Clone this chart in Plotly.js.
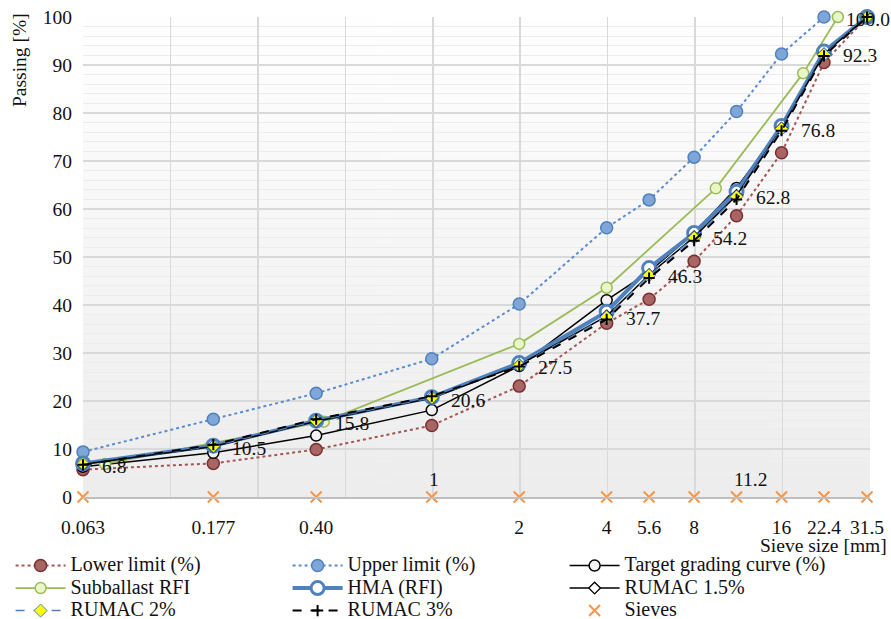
<!DOCTYPE html>
<html><head><meta charset="utf-8">
<script src="https://cdn.plot.ly/plotly-3.0.1.min.js"></script>
<style>html,body{margin:0;padding:0;background:#fff}#chart{width:891px;height:619px}</style>
</head><body><div id="chart"></div>
<script>
// ---- data ----
const sieves = [0.063, 0.177, 0.40, 1, 2, 4, 5.6, 8, 11.2, 16, 22.4, 31.5];
const sieveLabels = ['0.063', '0.177', '0.40', '1', '2', '4', '5.6', '8', '11.2', '16', '22.4', '31.5'];
const raisedLabels = ['1', '11.2'];
const gridSizes = [0.063, 0.126, 0.252, 0.504, 1.008, 2.016, 4.032, 8.064, 16.128, 32.256];
const lowerLimit = [5.7, 7.0, 9.9, 14.9, 23.1, 36.2, 41.2, 49.1, 58.6, 71.7, 90.5, 100];
const upperSieves = [0.063, 0.177, 0.40, 1, 2, 4, 5.6, 8, 11.2, 16, 22.4];
const upperLimit = [9.4, 16.2, 21.6, 28.8, 40.2, 56.1, 61.9, 70.8, 80.3, 92.3, 100];
const targetCurve = [6.3, 9.2, 12.8, 18.1, 27.3, 41.0, 46.9, 55.0, 64.4, 77.0, 92.5, 100];
const subballastSieves = [0.075, 0.425, 2, 4, 9.5, 19, 25];
const subballast = [6.9, 15.7, 31.9, 43.6, 64.3, 88.3, 100];
const hmaRFI = [7.0, 10.7, 15.9, 20.8, 27.9, 38.6, 47.7, 55.0, 63.6, 77.3, 92.8, 100];
const rumac15 = [6.8, 10.5, 15.8, 20.6, 27.5, 37.7, 46.3, 54.2, 62.8, 76.8, 92.3, 100.0];
const rumac2 = [6.9, 10.6, 15.9, 20.7, 27.4, 37.5, 46.2, 54.0, 62.6, 76.7, 92.2, 100];
const rumac3 = [6.7, 10.9, 16.2, 21.0, 27.2, 37.0, 45.6, 53.4, 62.0, 76.3, 91.9, 100];
const seriesNames = ['Lower limit (%)', 'Upper limit (%)', 'Target grading curve (%)', 'Subballast RFI',
  'HMA (RFI)', 'RUMAC 1.5%', 'RUMAC 2%', 'RUMAC 3%', 'Sieves'];
const sieveZero = sieves.map(() => 0);

const FONT = 'Liberation Serif';
const TXT = '#111111';
const legName = n => '<span style="font-size:20px">' + n + '</span>';

const traces = [
  {x: sieves, y: lowerLimit, mode: 'lines+markers',
   line: {color: '#A35555', width: 2, dash: 'dot'},
   marker: {symbol: 'circle', size: 12, color: '#A86565', line: {color: '#7A2F2F', width: 1.5}}},
  {x: upperSieves, y: upperLimit, mode: 'lines+markers',
   line: {color: '#5B8BD0', width: 2, dash: 'dot'},
   marker: {symbol: 'circle', size: 12, color: '#80A6D8', line: {color: '#4F81BD', width: 1.5}}},
  {x: sieves, y: targetCurve, mode: 'lines+markers',
   line: {color: '#000000', width: 1.5},
   marker: {symbol: 'circle', size: 11, color: '#f2f2f2', line: {color: '#000000', width: 1.5}}},
  {x: subballastSieves, y: subballast, mode: 'lines+markers',
   line: {color: '#9BBB59', width: 1.8},
   marker: {symbol: 'circle', size: 11, color: '#E9F7C6', line: {color: '#9BBB59', width: 1.5}}},
  {x: sieves, y: hmaRFI, mode: 'lines+markers',
   line: {color: '#4F81BD', width: 4},
   marker: {symbol: 'circle', size: 13, color: '#ffffff', line: {color: '#4F81BD', width: 3}}},
  {x: sieves, y: rumac15, mode: 'lines+markers',
   line: {color: '#000000', width: 1.5},
   marker: {symbol: 'diamond', size: 9, color: '#ffffff', line: {color: '#000000', width: 1.3}}},
  {x: sieves, y: rumac2, mode: 'lines+markers',
   line: {color: '#4F81BD', width: 1.5, dash: 'dash'},
   marker: {symbol: 'diamond', size: 10, color: '#FFFF00', line: {color: '#4F81BD', width: 1}}},
  {x: sieves, y: rumac3, mode: 'lines+markers',
   line: {color: '#000000', width: 2, dash: 'dash'},
   marker: {symbol: 'cross-thin-open', size: 8, color: '#000000', line: {color: '#000000', width: 2}}},
  {x: sieves, y: sieveZero, mode: 'markers', xaxis: 'x2',
   marker: {symbol: 'x-thin-open', size: 11, color: '#F79646', line: {color: '#F79646', width: 2}}}
];
traces.forEach((t, i) => { t.name = legName(seriesNames[i]); t.cliponaxis = false; t.hoverinfo = 'skip'; });

// data labels for RUMAC values
const annotations = rumac15.map((v, i) => ({
  x: Math.log10(sieves[i]), y: v, xref: 'x', yref: 'y', text: v.toFixed(1), showarrow: false,
  xanchor: 'left', yanchor: 'middle', xshift: i === rumac15.length - 1 ? -23 : 17, yshift: -2,
  font: {family: FONT, size: 19.5, color: TXT}
}));
raisedLabels.forEach(lbl => {
  const s = sieves[sieveLabels.indexOf(lbl)];
  annotations.push({x: Math.log10(s), y: 0, xref: 'x', yref: 'y', text: lbl, showarrow: false,
    xanchor: 'left', yanchor: 'bottom', xshift: -5, yshift: 5, font: {family: FONT, size: 19.5, color: TXT}});
});
annotations.push({text: 'Sieve size [mm]', xref: 'paper', yref: 'paper', x: 1, y: 0, xanchor: 'right', yanchor: 'middle',
  xshift: 19, yshift: -48, showarrow: false, font: {family: FONT, size: 19.5, color: TXT}});
annotations.push({text: 'Passing [%]', xref: 'paper', yref: 'paper', x: 0, y: (497 - 60) / 480, textangle: -90,
  xanchor: 'center', yanchor: 'middle', xshift: -64, showarrow: false, font: {family: FONT, size: 19.5, color: TXT}});

// gradient background
const cv = document.createElement('canvas'); cv.width = 4; cv.height = 256;
const ctx = cv.getContext('2d');
const gr = ctx.createLinearGradient(0, 0, 0, 256);
gr.addColorStop(0, '#ffffff'); gr.addColorStop(1, '#ededed');
ctx.fillStyle = gr; ctx.fillRect(0, 0, 4, 256);

const xr = [Math.log10(gridSizes[0]), Math.log10(gridSizes[gridSizes.length - 1])];
const layout = {
  width: 891, height: 619,
  margin: {l: 83, r: 21, t: 17, b: 122, autoexpand: false},
  paper_bgcolor: '#ffffff', plot_bgcolor: 'rgba(0,0,0,0)',
  font: {family: FONT, size: 19.5, color: TXT},
  showlegend: true,
  images: [{source: cv.toDataURL(), xref: 'paper', yref: 'paper', x: 0, y: 1, sizex: 1, sizey: 1,
    sizing: 'stretch', layer: 'below', xanchor: 'left', yanchor: 'top'}],
  xaxis: {type: 'log', range: xr, tickvals: sieves,
    ticktext: sieveLabels.map(l => raisedLabels.includes(l) ? '' : l),
    showgrid: false, zeroline: false, showline: true, linecolor: '#bfbfbf', linewidth: 1.5,
    ticks: '', ticklabelstandoff: 12, tickfont: {family: FONT, size: 19.5, color: TXT}, automargin: false},
  xaxis2: {type: 'log', range: xr, overlaying: 'x', tickvals: gridSizes, showticklabels: false,
    showgrid: true, gridcolor: '#d9d9d9', gridwidth: 1.5, zeroline: false, showline: false, ticks: ''},
  yaxis: {range: [0, 100], tickvals: [0, 10, 20, 30, 40, 50, 60, 70, 80, 90, 100],
    showgrid: true, gridcolor: '#d9d9d9', gridwidth: 1.5, zeroline: false, showline: false,
    ticks: '', ticklabelstandoff: 10, tickfont: {family: FONT, size: 19.5, color: TXT}, automargin: false,
    minor: {dtick: 2, showgrid: true, gridcolor: '#ececec', gridwidth: 1}},
  legend: {orientation: 'h', x: -0.092, xanchor: 'left', y: -0.109, yanchor: 'top',
    entrywidth: 212, entrywidthmode: 'pixels', itemwidth: 50, tracegroupgap: 0,
    bgcolor: 'rgba(0,0,0,0)', font: {family: FONT, size: 15, color: TXT}},
  annotations: annotations,
  hovermode: false
};
Plotly.newPlot('chart', traces, layout, {staticPlot: true, displayModeBar: false});
</script></body></html>
